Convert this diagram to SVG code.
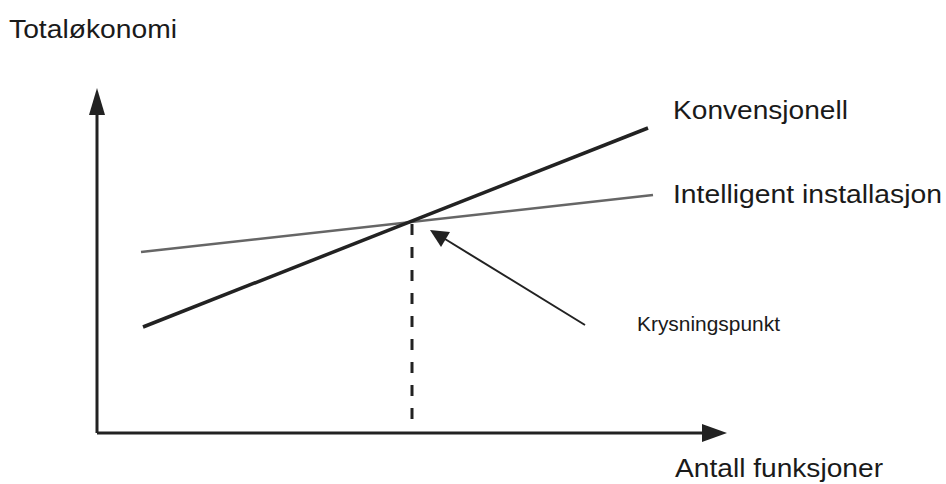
<svg xmlns="http://www.w3.org/2000/svg" width="946" height="484" viewBox="0 0 946 484">
<style>
text{font-family:"Liberation Sans",Arial,sans-serif;fill:#1a1a1a}
.lbl{font-size:25px}
.ax{stroke:#222;stroke-width:3;fill:none}
.head{fill:#222}
</style>
<rect width="946" height="484" fill="#fff"/>
<g id="connectors">
<line class="ax" x1="97" y1="433" x2="97" y2="110"/>
<path class="head" d="M97,88 L105,115 L89,115 Z"/>
<line class="ax" x1="97" y1="433" x2="705" y2="433"/>
<path class="head" d="M727,433 L702,424 L702,442 Z"/>
<line x1="141" y1="252" x2="653" y2="195" stroke="#666" stroke-width="2.5"/>
<line x1="143" y1="327" x2="648" y2="128" stroke="#222" stroke-width="3.5"/>
<line x1="412" y1="224" x2="412" y2="431" stroke="#222" stroke-width="3" stroke-dasharray="11,12"/>
<line x1="585" y1="325" x2="445" y2="239" stroke="#222" stroke-width="2"/>
<path class="head" d="M430,230 L450,232 L441,247 Z"/>
</g>
<g id="title"><text class="lbl" x="9" y="38" textLength="168" lengthAdjust="spacingAndGlyphs">Totaløkonomi</text></g>
<g id="konvensjonell"><text class="lbl" x="673" y="119" textLength="175" lengthAdjust="spacingAndGlyphs">Konvensjonell</text></g>
<g id="intelligent"><text class="lbl" x="673" y="203" textLength="269" lengthAdjust="spacingAndGlyphs">Intelligent installasjon</text></g>
<g id="krysningspunkt"><text x="637" y="331" font-size="21" textLength="143" lengthAdjust="spacingAndGlyphs">Krysningspunkt</text></g>
<g id="xlabel"><text class="lbl" x="675" y="477" textLength="208" lengthAdjust="spacingAndGlyphs">Antall funksjoner</text></g>
</svg>
